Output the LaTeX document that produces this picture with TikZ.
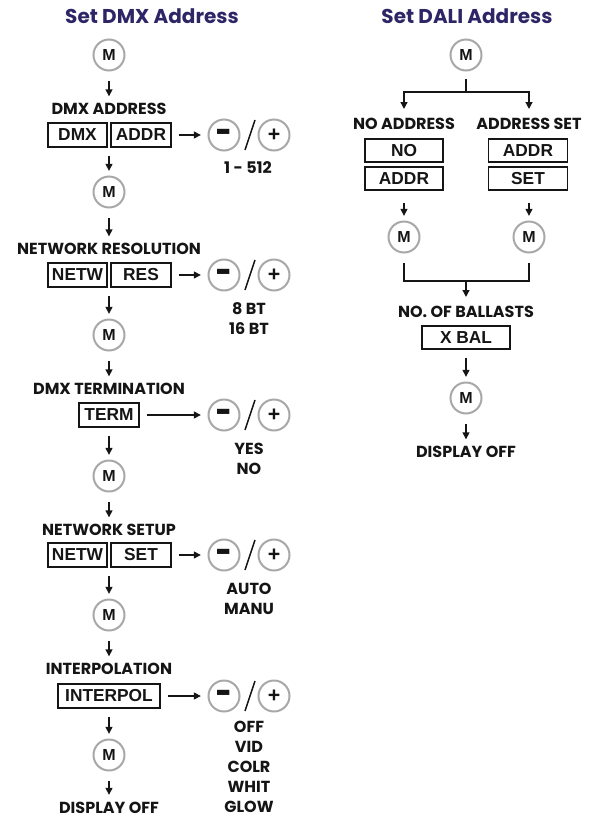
\documentclass[tikz,border=0pt]{standalone}
\usepackage{fontspec}
\usepackage{graphicx}
\setmainfont{Poppins}
\newfontfamily\boxfont{Liberation Sans}
\usetikzlibrary{arrows.meta}
\definecolor{navy}{HTML}{2D2566}
\definecolor{ringgray}{HTML}{A8A8A8}
\definecolor{ink}{HTML}{151515}
\newcommand{\fatminus}{\raisebox{-9.4pt}[0pt][0pt]{\scalebox{1.15}[2.2]{−}}}
\tikzset{
  ttl/.style={font=\fontsize{15}{17}\selectfont\bfseries, text=navy, inner sep=0pt},
  lab/.style={font=\fontsize{12}{15}\selectfont\bfseries, text=ink, inner sep=0pt, align=center},
  dbox/.style={draw=ink, line width=1.1pt, minimum height=18pt, inner sep=0pt, text=ink,
     font=\boxfont\fontsize{13}{15}\selectfont\bfseries},
  rbox/.style={dbox, minimum height=17.25pt},
  btn/.style={circle, draw=ringgray, line width=1.5pt, fill=white, minimum size=23.25pt,
     inner sep=0pt, text=ink, font=\boxfont\fontsize{12}{14}\selectfont\bfseries},
  pm/.style={btn, font=\boxfont\fontsize{16}{16}\selectfont\bfseries},
  arr/.style={-{Triangle[length=5.2pt,width=5.2pt]}, line width=1pt, draw=ink},
  ln/.style={line width=1pt, draw=ink},
  mdown/.style={arr, shorten <=7pt, shorten >=5pt},
  bdown/.style={arr, shorten <=6pt, shorten >=3.5pt},
  rarr/.style={arr, shorten <=5.5pt, shorten >=5pt},
  slashline/.style={line width=1.1pt, draw=ink},
}
\begin{document}
\begin{tikzpicture}[x=0.75pt,y=-0.75pt]
\useasboundingbox (0,0) rectangle (591,818);
% ---------------- Left: Set DMX Address ----------------
\node[ttl] (titleL) at (152,16) {Set DMX Address};
\node[btn] (m1) at (109,55) {M};
\node[lab] (lab1) at (109,109) {DMX ADDRESS};
\node[dbox, minimum width=44.25pt] (bDMX) at (77.5,135) {DMX};
\node[dbox, minimum width=45pt] (bADDR) at (141,135) {ADDR};
\node[pm] (mi1) at (224,135) {\fatminus};
\node[pm] (pl1) at (274,135) {+};
\draw[slashline] (255,120) -- (245,150);
\node[lab] (o1) at (248,168) {1 - 512};

\node[btn] (m2) at (109,192) {M};
\node[lab] (lab2) at (109,249) {NETWORK RESOLUTION};
\node[dbox, minimum width=44.25pt] (bNETW) at (77.5,275) {NETW};
\node[dbox, minimum width=45pt] (bRES) at (141,275) {RES};
\node[pm] (mi2) at (224,275) {\fatminus};
\node[pm] (pl2) at (274,275) {+};
\draw[slashline] (255,260) -- (245,290);
\node[lab, anchor=north] (o2) at (249,302) {8 BT\\16 BT};

\node[btn] (m3) at (109,335) {M};
\node[lab] (lab3) at (109,389) {DMX TERMINATION};
\node[dbox, minimum width=45pt] (bTERM) at (109,415) {TERM};
\node[pm] (mi3) at (224,415) {\fatminus};
\node[pm] (pl3) at (274,415) {+};
\draw[slashline] (255,400) -- (245,430);
\node[lab, anchor=north] (o3) at (249,443) {YES\\NO};

\node[btn] (m4) at (109,476) {M};
\node[lab] (lab4) at (109,530) {NETWORK SETUP};
\node[dbox, minimum width=44.25pt] (bNETW2) at (77.5,555) {NETW};
\node[dbox, minimum width=45pt] (bSET) at (141,555) {SET};
\node[pm] (mi4) at (224,555) {\fatminus};
\node[pm] (pl4) at (274,555) {+};
\draw[slashline] (255,540) -- (245,570);
\node[lab, anchor=north] (o4) at (249,583) {AUTO\\MANU};

\node[btn] (m5) at (109,615) {M};
\node[lab] (lab5) at (109,669) {INTERPOLATION};
\node[dbox, minimum width=76.5pt] (bINT) at (109,696) {INTERPOL};
\node[pm] (mi5) at (224,696) {\fatminus};
\node[pm] (pl5) at (274,696) {+};
\draw[slashline] (255,681) -- (245,711);
\node[lab, anchor=north] (o5) at (249,721) {OFF\\VID\\COLR\\WHIT\\GLOW};

\node[btn] (m6) at (109,755) {M};
\node[lab] (lab6) at (109,807.5) {DISPLAY OFF};

\draw[mdown] (m1) -- (lab1);
\draw[bdown] (bDMX.south -| m1) -- (m2);
\draw[mdown] (m2) -- (lab2);
\draw[bdown] (bNETW.south -| m2) -- (m3);
\draw[mdown] (m3) -- (lab3);
\draw[bdown] (bTERM) -- (m4);
\draw[mdown] (m4) -- (lab4);
\draw[bdown] (bNETW2.south -| m4) -- (m5);
\draw[mdown] (m5) -- (lab5);
\draw[bdown] (bINT) -- (m6);
\draw[mdown] (m6) -- (lab6);

\draw[rarr] (bADDR) -- (mi1);
\draw[rarr] (bRES) -- (mi2);
\draw[rarr] (bTERM) -- (mi3);
\draw[rarr] (bSET) -- (mi4);
\draw[rarr] (bINT) -- (mi5);

% ---------------- Right: Set DALI Address ----------------
\node[ttl] (titleR) at (467,16) {Set DALI Address};
\node[btn] (n1) at (466,55) {M};
\coordinate (br) at (466,92);
\node[lab] (labNA) at (404,124) {NO ADDRESS};
\node[lab] (labAS) at (529,124) {ADDRESS SET};
\node[rbox, minimum width=58.5pt] (bNO) at (404,150.5) {NO};
\node[rbox, minimum width=58.5pt] (bADDRa) at (404,178.5) {ADDR};
\node[rbox, minimum width=59.25pt] (bADDRb) at (528,150.5) {ADDR};
\node[rbox, minimum width=59.25pt] (bSETb) at (528,178.5) {SET};
\node[btn] (n2) at (404,237) {M};
\node[btn] (n3) at (529,237) {M};
\coordinate (mg) at (466,281);
\node[lab] (labNB) at (466,312) {NO. OF BALLASTS};
\node[rbox, minimum width=66pt] (bXBAL) at (466,337.5) {X BAL};
\node[btn] (n4) at (466,398) {M};
\node[lab] (labDO) at (466,452) {DISPLAY OFF};

\draw[arr, shorten <=5.6pt, shorten >=6.75pt] (n1.south) -- (n1.south |- br) -| (labNA.north);
\draw[arr, shorten <=5.6pt, shorten >=6.75pt] (n1.south) -- (n1.south |- br) -| (labAS.north);
\draw[arr, shorten <=9pt, shorten >=3.5pt] (bADDRa) -- (n2);
\draw[arr, shorten <=9pt, shorten >=3.5pt] (bSETb.south -| n3) -- (n3);
\draw[ln, shorten <=7pt] (n2.south) |- (mg);
\draw[ln, shorten <=7pt] (n3.south) |- (mg);
\draw[arr, shorten >=6.75pt] (mg) -- (labNB.north);
\draw[bdown] (bXBAL) -- (n4);
\draw[mdown] (n4) -- (labDO);
\end{tikzpicture}
\end{document}
